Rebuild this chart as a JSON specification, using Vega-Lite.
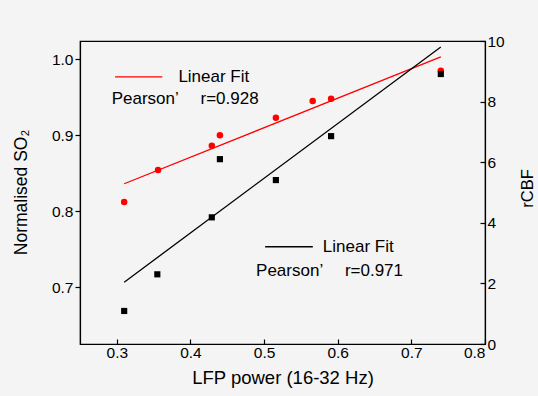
{
  "$schema": "https://vega.github.io/schema/vega-lite/v6.json",
  "autosize": {"type": "none"},
  "padding": {"left": 80, "top": 41, "right": 53, "bottom": 52},
  "width": 405,
  "height": 303,
  "background": "#f4f4f4",
  "config": {
    "font": "Liberation Sans",
    "view": {"stroke": "#000000", "strokeWidth": 1.2},
    "axis": {"grid": false, "domainColor": "#000000", "tickColor": "#000000", "labelColor": "#000000", "titleColor": "#000000", "labelFontSize": 15.5, "titleFontWeight": "normal", "domainWidth": 1.2, "tickWidth": 1.2}
  },
  "datasets": {
    "so2": [
      {"lfp": 0.310, "v": 0.812},
      {"lfp": 0.356, "v": 0.854},
      {"lfp": 0.429, "v": 0.886},
      {"lfp": 0.440, "v": 0.900},
      {"lfp": 0.516, "v": 0.923},
      {"lfp": 0.566, "v": 0.945},
      {"lfp": 0.591, "v": 0.948},
      {"lfp": 0.740, "v": 0.985}
    ],
    "cbf": [
      {"lfp": 0.310, "v": 1.09},
      {"lfp": 0.355, "v": 2.30},
      {"lfp": 0.429, "v": 4.18},
      {"lfp": 0.440, "v": 6.10},
      {"lfp": 0.516, "v": 5.41},
      {"lfp": 0.591, "v": 6.86},
      {"lfp": 0.740, "v": 8.91}
    ],
    "so2fit": [{"lfp": 0.31, "v": 0.836}, {"lfp": 0.74, "v": 1.003}],
    "cbffit": [{"lfp": 0.31, "v": 2.04}, {"lfp": 0.74, "v": 9.80}],
    "so2leg": [{"x1": 0.2976, "x2": 0.3618, "v": 0.9767}],
    "cbfleg": [{"x1": 0.5014, "x2": 0.5662, "v": 3.21}],
    "so2txt": [
      {"lfp": 0.3836, "v": 0.9767, "t": "Linear Fit"},
      {"lfp": 0.293, "v": 0.947, "t": "Pearson’\u2003 r=0.928"}
    ],
    "cbftxt": [
      {"lfp": 0.5798, "v": 3.21, "t": "Linear Fit"},
      {"lfp": 0.4891, "v": 2.42, "t": "Pearson’\u2003 r=0.971"}
    ]
  },
  "encoding": {
    "x": {
      "field": "lfp", "type": "quantitative",
      "scale": {"domain": [0.25, 0.8], "nice": false, "zero": false},
      "axis": {"values": [0.3, 0.4, 0.5, 0.6, 0.7, 0.8], "format": ".1f", "tickSize": -5, "labelPadding": 6, "title": "LFP power (16-32 Hz)", "titleFontSize": 18.5, "titlePadding": 8}
    }
  },
  "layer": [
    {
      "encoding": {
        "y": {
          "field": "v", "type": "quantitative",
          "scale": {"domain": [0.625, 1.024], "nice": false, "zero": false},
          "axis": {"orient": "left", "values": [0.7, 0.8, 0.9, 1.0], "format": ".1f", "tickSize": 5, "labelPadding": 2, "title": "Normalised SO₂", "titleFontSize": 17.5, "titleX": -59, "titleY": 151, "titleBaseline": "middle"}
        }
      },
      "layer": [
        {"data": {"name": "so2fit"}, "mark": {"type": "line", "color": "#ff0000", "strokeWidth": 1.3}},
        {"data": {"name": "so2"}, "mark": {"type": "point", "shape": "circle", "filled": true, "color": "#ff0000", "size": 42, "opacity": 1}},
        {"data": {"name": "so2leg"}, "mark": {"type": "rule", "color": "#ff0000", "strokeWidth": 1.3}, "encoding": {"x": {"field": "x1", "type": "quantitative"}, "x2": {"field": "x2"}}},
        {"data": {"name": "so2txt"}, "mark": {"type": "text", "align": "left", "baseline": "middle", "fontSize": 17, "color": "#000000"}, "encoding": {"text": {"field": "t"}}}
      ]
    },
    {
      "encoding": {
        "y": {
          "field": "v", "type": "quantitative",
          "scale": {"domain": [0, 10], "nice": false},
          "axis": {"orient": "right", "values": [0, 2, 4, 6, 8, 10], "format": "d", "tickSize": -5, "labelPadding": 7, "title": "rCBF", "titleFontSize": 16.5, "titleAngle": -90, "titleX": 42, "titleY": 147, "titleBaseline": "middle"}
        }
      },
      "layer": [
        {"data": {"name": "cbffit"}, "mark": {"type": "line", "color": "#000000", "strokeWidth": 1.3}},
        {"data": {"name": "cbf"}, "mark": {"type": "point", "shape": "square", "filled": true, "color": "#000000", "size": 38, "opacity": 1}},
        {"data": {"name": "cbfleg"}, "mark": {"type": "rule", "color": "#000000", "strokeWidth": 1.3}, "encoding": {"x": {"field": "x1", "type": "quantitative"}, "x2": {"field": "x2"}}},
        {"data": {"name": "cbftxt"}, "mark": {"type": "text", "align": "left", "baseline": "middle", "fontSize": 17, "color": "#000000"}, "encoding": {"text": {"field": "t"}}}
      ]
    }
  ],
  "resolve": {"scale": {"y": "independent"}}
}
